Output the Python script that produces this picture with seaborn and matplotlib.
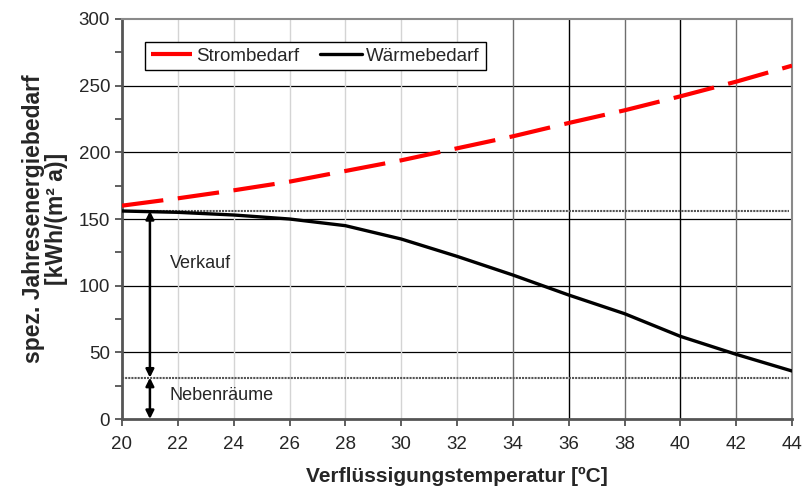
import matplotlib
matplotlib.use("Agg")
import matplotlib.pyplot as plt
import seaborn as sns
import pandas as pd

# values
temps = [20, 22, 24, 26, 28, 30, 32, 34, 36, 38, 40, 42, 44]
strom = [160, 165.5, 171.5, 178, 186, 194, 203, 212, 222, 231.5, 242, 253, 265]
waerme = [156, 155, 153, 150, 145, 135, 122, 108, 93, 79, 62, 48.5, 36]
level_top = 156
level_neben = 31
x_ticks = list(range(20, 45, 2))
y_ticks = list(range(0, 301, 50))

df = pd.DataFrame({"temp": temps, "Strombedarf": strom, "Wärmebedarf": waerme})

sns.set_style("white")
plt.rcParams["font.family"] = ["Liberation Sans", "DejaVu Sans"]

fig = plt.figure(figsize=(8.06, 4.88), dpi=100)
ax = fig.add_axes([122 / 806, 69 / 488, 670 / 806, 400 / 488])

# grid: horizontal every 50, vertical with varying shade
for y in y_ticks[1:-1]:
    ax.axhline(y, color="black", lw=0.9, zorder=1)
for x in x_ticks[1:-1]:
    if x < 34:
        c = "#d4d4d4"
    elif x in (36, 40):
        c = "black"
    else:
        c = "#6e6e6e"
    ax.axvline(x, color=c, lw=1.0, zorder=1)

# dotted reference levels
ax.hlines([level_top, level_neben], 20, 43.9, colors="#555555", lw=1.5,
          linestyles=(0, (1, 0.5)), zorder=2)

sns.lineplot(data=df, x="temp", y="Strombedarf", ax=ax, color="red", lw=3.0,
             label="Strombedarf", zorder=4)
ax.lines[-1].set_dashes([10, 3.5])
sns.lineplot(data=df, x="temp", y="Wärmebedarf", ax=ax, color="black", lw=2.4,
             label="Wärmebedarf", zorder=4)

# arrows
arrow = dict(arrowstyle="<|-|>", color="black", lw=1.8, mutation_scale=12,
             shrinkA=0, shrinkB=0)
ax.annotate("", xy=(21, level_top), xytext=(21, level_neben), arrowprops=arrow, zorder=5)
ax.annotate("", xy=(21, level_neben), xytext=(21, 0), arrowprops=arrow, zorder=5)
ax.text(21.7, 117, "Verkauf", fontsize=13, va="center", ha="left")
ax.text(21.7, 18, "Nebenräume", fontsize=13, va="center", ha="left")

ax.set_xlim(20, 44)
ax.set_ylim(0, 300)
ax.set_xticks(x_ticks)
ax.set_yticks(y_ticks)
ax.set_yticks(list(range(25, 300, 50)), minor=True)
ax.tick_params(axis="both", which="both", direction="out", length=5, width=1.2,
               color="#444444", labelsize=13.5, bottom=True, left=True)
ax.tick_params(axis="x", pad=7)

for side in ["left", "bottom"]:
    ax.spines[side].set_color("#555555")
    ax.spines[side].set_linewidth(2.0)
for side in ["top", "right"]:
    ax.spines[side].set_color("#8a8a8a")
    ax.spines[side].set_linewidth(1.5)

ax.set_xlabel("Verflüssigungstemperatur [ºC]", fontsize=15, fontweight="bold", labelpad=10)
ax.set_ylabel("spez. Jahresenergiebedarf\n[kWh/(m² a)]", fontsize=16.5, fontweight="bold",
              labelpad=8, linespacing=1.0)

leg = ax.legend(loc="upper left", bbox_to_anchor=(23 / 670, 1 - 23 / 400), ncol=2,
                fontsize=13.5, frameon=True, fancybox=False, borderpad=0.3,
                handlelength=2.2, columnspacing=1.1, handletextpad=0.25,
                borderaxespad=0)
leg.get_frame().set_edgecolor("black")
leg.get_frame().set_linewidth(1.0)
leg.get_frame().set_alpha(1)

fig.savefig("out.png", dpi=100)
